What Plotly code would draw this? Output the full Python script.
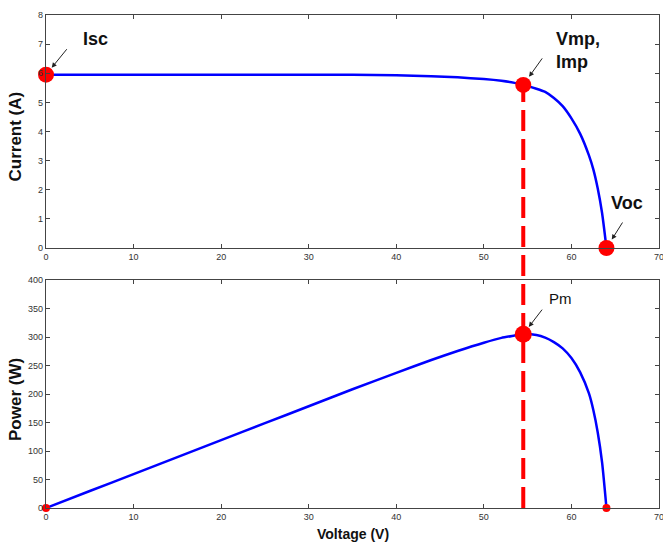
import plotly.graph_objects as go
from plotly.subplots import make_subplots

# ---- data ----
voltage = [0, 5, 10, 15, 20, 25, 30, 35, 40, 44, 47, 50, 52, 53.5, 54.5, 56, 57, 58, 59, 60, 61, 62, 62.5, 63, 63.5, 64]
current = [5.95, 5.95, 5.95, 5.95, 5.95, 5.95, 5.95, 5.95, 5.93, 5.9, 5.86, 5.8, 5.74, 5.67, 5.6, 5.47, 5.36, 5.15, 4.87, 4.45, 3.92, 3.18, 2.7, 2.05, 1.2, 0.0]
power = [0, 29.8, 59.5, 89.3, 119, 148.8, 178.5, 208.3, 237.2, 259.6, 275.4, 290, 298.5, 302.5, 305, 303.5, 299, 291, 280, 263, 238, 201, 172, 133, 80, 0]

isc_v, isc_i = 0, 5.95
vmp, imp = 54.5, 5.6
voc = 64.0
pm = 305

x_ticks = [0, 10, 20, 30, 40, 50, 60, 70]
i_ticks = [0, 1, 2, 3, 4, 5, 6, 7, 8]
p_ticks = [0, 50, 100, 150, 200, 250, 300, 350, 400]

# ---- layout geometry ----
W, H = 663, 542
ml, mr, mt, mb = 46, 4, 15, 34
plot_h = H - mt - mb
top_dom = [(508 - 248) / plot_h, 1.0]
bot_dom = [0.0, (508 - 280) / plot_h]

fig = make_subplots(rows=2, cols=1)

blue = "#0000ff"
red = "#ff0000"

fig.add_trace(go.Scatter(x=voltage, y=current, mode="lines",
                         line=dict(color=blue, width=2.5, shape="spline", smoothing=0.6),
                         showlegend=False), row=1, col=1)
fig.add_trace(go.Scatter(x=voltage, y=power, mode="lines",
                         line=dict(color=blue, width=2.5, shape="spline", smoothing=0.6),
                         showlegend=False), row=2, col=1)

# markers
fig.add_trace(go.Scatter(x=[isc_v, vmp, voc], y=[isc_i, imp, 0], mode="markers",
                         marker=dict(color=red, size=16), showlegend=False, cliponaxis=False), row=1, col=1)
fig.add_trace(go.Scatter(x=[vmp], y=[pm], mode="markers",
                         marker=dict(color=red, size=17), showlegend=False, cliponaxis=False), row=2, col=1)
fig.add_trace(go.Scatter(x=[0, voc], y=[0, 0], mode="markers",
                         marker=dict(color=red, size=8), showlegend=False, cliponaxis=False), row=2, col=1)

axis_common = dict(
    showline=True, linecolor="#444444", linewidth=1.2, mirror="ticks",
    ticks="inside", ticklen=4, tickcolor="#444444", showgrid=False, zeroline=False,
    automargin=False, ticklabeloverflow="allow",
    tickfont=dict(family="Arial, Liberation Sans", size=9, color="#333333"),
)

fig.update_xaxes(range=[0, 70], tickvals=x_ticks, **axis_common)
fig.update_yaxes(**axis_common)
fig.update_yaxes(range=[0, 8], tickvals=i_ticks, row=1, col=1)
fig.update_yaxes(range=[0, 400], tickvals=p_ticks, row=2, col=1)

fig.update_layout(
    width=W, height=H,
    margin=dict(l=ml, r=mr, t=mt, b=mb, autoexpand=False),
    paper_bgcolor="white", plot_bgcolor="white",
    yaxis=dict(domain=top_dom), yaxis2=dict(domain=bot_dom),
    xaxis=dict(anchor="y"), xaxis2=dict(anchor="y2"),
)

# axis titles
title_font = dict(family="Arial, Liberation Sans", size=17, color="#111111")
fig.add_annotation(x=0, y=(top_dom[0] + top_dom[1]) / 2, xref="paper", yref="paper",
                   text="<b>Current (A)</b>", textangle=-90, showarrow=False,
                   xanchor="center", yanchor="middle", xshift=-31, yshift=-5, font=title_font)
fig.add_annotation(x=0, y=(bot_dom[0] + bot_dom[1]) / 2, xref="paper", yref="paper",
                   text="<b>Power (W)</b>", textangle=-90, showarrow=False,
                   xanchor="center", yanchor="middle", xshift=-31, yshift=-6, font=title_font)
fig.add_annotation(x=0.5, y=0, xref="paper", yref="paper",
                   text="<b>Voltage (V)</b>", showarrow=False,
                   xanchor="center", yanchor="middle", yshift=-25.5,
                   font=dict(family="Arial, Liberation Sans", size=14, color="#111111"))

# dashed red vertical line through both plots
y_top_paper = top_dom[0] + (imp / 8) * (top_dom[1] - top_dom[0])
fig.add_shape(type="line", xref="x", yref="paper", x0=vmp, x1=vmp,
              y0=bot_dom[0], y1=y_top_paper,
              line=dict(color=red, width=4, dash="21px,8px"), layer="above")

arrow_style = dict(showarrow=True, arrowhead=2, arrowsize=1, arrowwidth=1,
                   arrowcolor="#222222", text="")
fig.add_annotation(x=isc_v, y=isc_i, xref="x", yref="y", ax=22, ay=-27, standoff=9, **arrow_style)
fig.add_annotation(x=vmp, y=imp, xref="x", yref="y", ax=20, ay=-28, standoff=10, **arrow_style)
fig.add_annotation(x=voc, y=0, xref="x", yref="y", ax=17, ay=-27, standoff=10, **arrow_style)
fig.add_annotation(x=vmp, y=pm, xref="x2", yref="y2", ax=20, ay=-26, standoff=9, **arrow_style)

lbl_font = dict(family="Arial, Liberation Sans", size=18, color="#111111")
fig.add_annotation(x=5.6, y=7.18, xref="x", yref="y", text="<b>Isc</b>", showarrow=False, font=lbl_font)
fig.add_annotation(x=58.0, y=6.77, xref="x", yref="y", text="<b>Vmp,<br>Imp</b>", showarrow=False,
                   xanchor="left", align="left", font=lbl_font)
fig.add_annotation(x=66.3, y=1.55, xref="x", yref="y", text="<b>Voc</b>", showarrow=False, font=lbl_font)
fig.add_annotation(x=58.8, y=368, xref="x2", yref="y2", text="Pm", showarrow=False,
                   font=dict(family="Arial, Liberation Sans", size=15, color="#111111"))

fig.write_html("out.html", config={"displayModeBar": False},
               post_script="document.body.style.margin='0';document.body.style.overflow='hidden';")
